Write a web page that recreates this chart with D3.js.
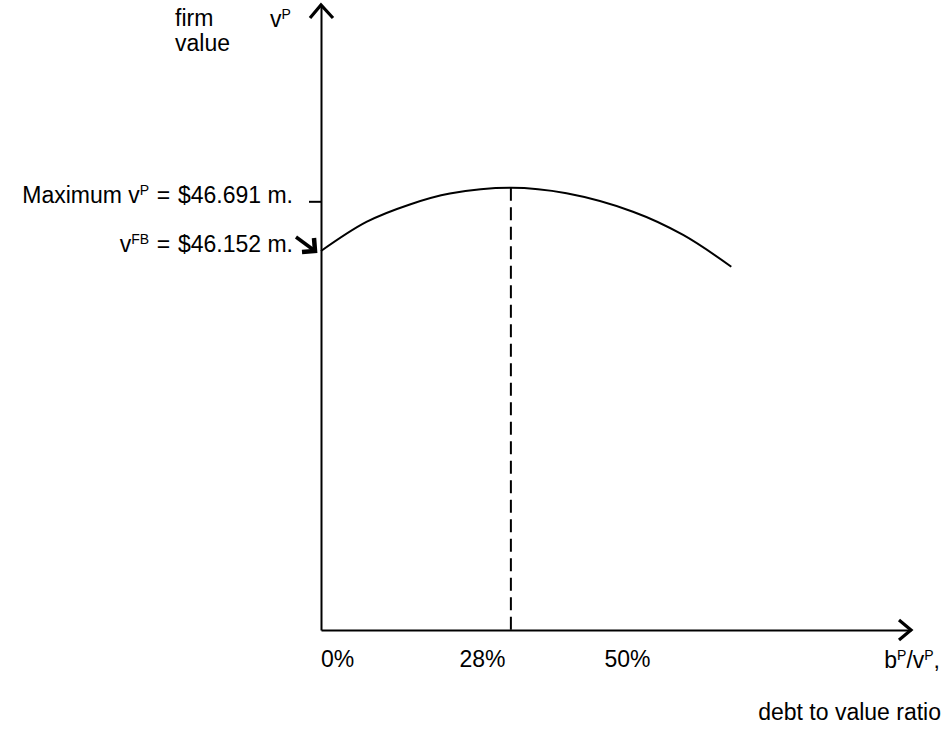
<!DOCTYPE html>
<html>
<head>
<meta charset="utf-8">
<script src="https://cdn.jsdelivr.net/npm/d3@7"></script>
<style>
  html, body { margin: 0; padding: 0; background: #fff; }
  text { font-family: "Liberation Sans", Arial, Helvetica, sans-serif; fill: #000; }
</style>
</head>
<body>
<script>
// debt to value ratio (%) and firm value ($ m.)
var debtRatio = [0, 6.7, 13.1, 19.0, 28, 36.2, 46.0, 53.4, 60.5];
var firmValue = [46.152, 46.400, 46.549, 46.642, 46.691, 46.644, 46.487, 46.289, 46.018];
var tickLabels = ["0%", "28%", "50%"];
var optimumRatio = 28;
var maxValue = 46.691;
var fbValue = 46.152;

var width = 950, height = 731;
var svg = d3.select("body").append("svg")
    .attr("width", width)
    .attr("height", height);

var x = d3.scaleLinear().domain([0, 87]).range([321, 911]);
var y = d3.scaleLinear().domain([42.92, 48.25]).range([630, 5]);

var x0 = x(0), y0 = y(42.92);

// axis lines
svg.append("g")
    .attr("transform", "translate(0," + y0 + ")")
    .call(d3.axisBottom(x).tickValues([]).tickSizeOuter(0))
    .select(".domain").attr("stroke", "#000").attr("stroke-width", 2);
svg.append("g")
    .attr("transform", "translate(" + x0 + ",0)")
    .call(d3.axisLeft(y).tickValues([]).tickSizeOuter(0))
    .select(".domain").attr("stroke", "#000").attr("stroke-width", 2);

// arrow heads
function chevron(tx, ty, ax, ay, bx, by) {
    svg.append("path")
        .attr("d", "M" + ax + "," + ay + "L" + tx + "," + ty + "L" + bx + "," + by)
        .attr("fill", "none").attr("stroke", "#000")
        .attr("stroke-width", 3.2).attr("stroke-linejoin", "miter");
}
chevron(x0, y(48.25), x0 - 11, y(48.25) + 13, x0 + 12, y(48.25) + 13);
chevron(x(87), y0, x(87) - 12, y0 - 10, x(87) - 12, y0 + 10);

// dashed line at optimum
svg.append("line")
    .attr("x1", x(optimumRatio)).attr("x2", x(optimumRatio))
    .attr("y1", y(maxValue)).attr("y2", y0)
    .attr("stroke", "#000").attr("stroke-width", 2)
    .attr("stroke-dasharray", "13,6.5");

// curve
var pts = debtRatio.map(function (d, i) { return [d, firmValue[i]]; });
var line = d3.line()
    .x(function (d) { return x(d[0]); })
    .y(function (d) { return y(d[1]); })
    .curve(d3.curveCatmullRom);
svg.append("path")
    .datum(pts)
    .attr("d", line)
    .attr("fill", "none")
    .attr("stroke", "#000")
    .attr("stroke-width", 2);

// max tick and label
var maxLabelY = y(maxValue) + 14;
svg.append("line")
    .attr("x1", x0 - 12).attr("x2", x0)
    .attr("y1", maxLabelY).attr("y2", maxLabelY)
    .attr("stroke", "#000").attr("stroke-width", 2);

// text with superscripts: parts are {t: normal} or {sup: raised}
function supLabel(tx, ty, parts, anchor) {
    var t = svg.append("text")
        .attr("x", tx).attr("y", ty)
        .attr("font-size", 23)
        .attr("text-anchor", anchor || "start");
    var raised = false;
    parts.forEach(function (p) {
        var s = t.append("tspan");
        if (p.sup) {
            s.attr("dy", raised ? 0 : -8).attr("font-size", 14).text(p.sup);
            raised = true;
        } else {
            s.attr("dy", raised ? 8 : 0).text(p.t);
            raised = false;
        }
    });
    return t;
}

var sp = "\u2004";
supLabel(293, maxLabelY + 1, [{ t: "Maximum v" }, { sup: "P" }, { t: sp + "=" + sp + "$46.691 m." }], "end");
supLabel(293, y(fbValue) + 1, [{ t: "v" }, { sup: "FB" }, { t: sp + "=" + sp + "$46.152 m." }], "end");

// bold arrow pointing at the full-borrowing value
var ax = x0 - 6, ay = y(fbValue);
svg.append("path")
    .attr("d", "M" + (ax - 19) + "," + (ay - 14) + "L" + ax + "," + ay)
    .attr("stroke", "#000").attr("stroke-width", 3.5).attr("fill", "none");
svg.append("path")
    .attr("d", "M" + (ax - 13) + "," + (ay + 1) + "L" + ax + "," + ay + "L" + (ax - 1) + "," + (ay - 13))
    .attr("stroke", "#000").attr("stroke-width", 4.5).attr("fill", "none")
    .attr("stroke-linejoin", "miter");

// y axis title
svg.append("text").attr("x", 175).attr("y", 26).attr("font-size", 23).text("firm");
svg.append("text").attr("x", 175).attr("y", 51).attr("font-size", 23).text("value");
supLabel(270, 27, [{ t: "v" }, { sup: "P" }]);

// x tick labels
var labelScale = d3.scalePoint().domain(tickLabels).range([337, 627]);
var xt = svg.append("g")
    .attr("transform", "translate(0," + (y0 + 21) + ")")
    .call(d3.axisBottom(labelScale).tickSize(0).tickPadding(0));
xt.select(".domain").remove();
xt.selectAll("text")
    .attr("font-size", 23)
    .attr("font-family", "Liberation Sans, Arial, sans-serif")
    .attr("fill", "#000");

// x axis title
supLabel(940, 668, [{ t: "b" }, { sup: "P" }, { t: "/v" }, { sup: "P" }, { t: "," }], "end");
svg.append("text").attr("x", 941).attr("y", 720).attr("font-size", 23)
    .attr("text-anchor", "end").text("debt to value ratio");
</script>
</body>
</html>
